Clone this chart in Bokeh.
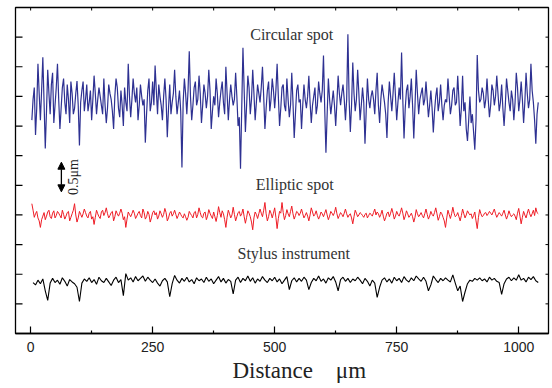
import math
from bokeh.plotting import figure
from bokeh.models import FixedTicker, Label, Arrow, NormalHead, Range1d
from bokeh.embed import file_html
from bokeh.resources import INLINE

# distance grids (um)
distance_fine = [2.5 * i for i in range(1, 417)]      # 2.5 ... 1040
distance = list(range(5, 1045, 5))                     # 5 ... 1040

circular_spot = [
    3.60, 3.95, 4.15, 3.35, 3.80, 4.55, 4.05, 3.60, 4.10, 4.66, 3.90, 3.12, 3.75, 4.45, 4.05, 3.70, 4.20, 4.40, 3.55, 3.85,
    4.15, 4.55, 3.95, 3.45, 3.80, 4.15, 4.30, 3.90, 3.70, 4.20, 3.95, 3.55, 4.25, 4.05, 3.70, 3.80, 4.05, 4.26, 3.85, 3.17,
    3.90, 4.10, 4.25, 3.75, 3.95, 4.20, 3.75, 3.90, 4.10, 3.60, 3.95, 4.35, 4.05, 3.70, 3.95, 4.15, 4.00, 3.85, 3.70, 4.30,
    3.85, 3.55, 3.80, 4.20, 4.05, 3.95, 3.75, 3.45, 4.00, 4.30, 4.15, 3.80, 3.65, 4.10, 3.85, 3.50, 4.15, 3.90, 3.75, 4.55,
    4.00, 3.65, 3.95, 4.30, 4.05, 3.90, 4.15, 3.60, 3.85, 4.20, 4.00, 3.85, 3.95, 3.22, 3.70, 4.10, 4.30, 3.75, 3.90, 4.25,
    3.85, 4.52, 4.10, 3.70, 4.20, 4.00, 3.85, 3.60, 4.00, 4.30, 3.95, 3.31, 3.80, 4.20, 3.70, 3.90, 4.05, 4.45, 4.00, 3.70,
    3.90, 4.10, 3.75, 2.80, 3.90, 4.30, 4.05, 3.70, 4.10, 4.76, 4.00, 3.60, 3.85, 4.15, 4.25, 3.85, 3.95, 4.35, 4.05, 3.55,
    3.85, 4.20, 4.05, 3.80, 4.00, 4.45, 4.10, 3.45, 3.75, 4.00, 3.85, 4.30, 4.05, 3.65, 3.90, 4.10, 4.25, 3.90, 3.70, 4.50,
    4.05, 3.60, 3.95, 4.20, 4.00, 3.85, 3.95, 4.40, 4.00, 3.50, 3.65, 2.78, 3.80, 4.82, 4.10, 3.40, 3.85, 4.35, 4.15, 3.70,
    3.95, 4.45, 4.05, 3.60, 3.90, 4.20, 4.05, 3.90, 4.15, 4.50, 4.00, 3.45, 3.80, 4.10, 4.25, 3.75, 3.95, 4.30, 4.10, 3.80,
    4.10, 4.55, 4.00, 3.50, 3.80, 4.15, 4.20, 3.85, 3.75, 4.30, 3.95, 3.65, 3.85, 4.40, 3.90, 3.30, 3.70, 4.10, 4.20, 3.90,
    3.95, 3.45, 3.85, 4.20, 3.95, 3.80, 4.00, 4.35, 3.90, 3.55, 3.85, 4.00, 4.15, 3.70, 3.85, 4.25, 4.05, 3.90, 4.10, 4.69,
    3.80, 3.05, 3.70, 4.30, 3.95, 3.70, 3.90, 4.10, 3.85, 3.50, 3.90, 4.35, 4.05, 3.85, 4.05, 4.20, 3.95, 3.60, 3.95, 5.05,
    3.95, 3.40, 3.85, 4.57, 4.05, 3.75, 3.95, 4.45, 4.05, 3.60, 3.85, 4.15, 3.90, 3.20, 3.75, 4.30, 3.95, 3.80, 4.00, 4.10,
    3.95, 3.70, 4.10, 4.40, 3.85, 3.55, 3.95, 4.20, 4.05, 3.90, 3.70, 3.30, 3.90, 4.25, 4.00, 3.75, 4.05, 4.40, 4.00, 3.60,
    3.90, 4.15, 3.95, 4.74, 3.95, 3.29, 3.80, 4.10, 4.20, 3.80, 4.00, 4.30, 3.85, 3.29, 3.85, 4.45, 4.05, 3.70, 3.95, 4.05,
    4.15, 3.85, 3.95, 4.25, 3.95, 3.65, 3.85, 4.10, 3.80, 3.39, 3.75, 4.00, 4.15, 3.75, 3.90, 4.20, 3.85, 3.60, 3.85, 3.95,
    3.90, 4.30, 4.00, 3.70, 3.85, 4.10, 4.15, 3.85, 3.90, 4.35, 3.95, 3.50, 3.80, 4.35, 3.75, 3.90, 3.45, 3.25, 3.60, 4.00,
    3.55, 3.70, 3.40, 3.10, 3.60, 4.70, 4.10, 3.90, 3.95, 4.15, 4.05, 3.80, 3.95, 4.30, 3.95, 3.65, 3.85, 4.20, 4.10, 3.85,
    4.00, 4.35, 4.05, 3.75, 3.90, 4.20, 3.80, 3.50, 3.85, 4.30, 4.10, 3.90, 3.75, 4.10, 3.95, 3.60, 3.90, 4.40, 4.15, 3.75,
    3.95, 4.25, 3.95, 3.55, 3.90, 4.40, 4.05, 3.80, 3.95, 4.55, 4.10, 3.90, 3.60, 3.20, 3.70, 3.90,
]

elliptic_spot = [
    2.19, 2.08, 1.96, 2.02, 2.06, 1.95, 1.90, 1.79, 1.92, 1.98, 2.04, 1.92, 1.98, 2.05, 2.08, 1.97, 1.94, 2.03, 2.07, 1.95,
    1.99, 2.06, 2.03, 1.99, 1.95, 2.08, 2.01, 1.93, 1.98, 2.04, 2.06, 1.90, 1.96, 2.02, 2.08, 2.19, 2.00, 1.88, 1.95, 2.06,
    2.01, 1.96, 2.02, 2.10, 2.04, 1.98, 1.95, 2.03, 2.06, 1.93, 1.97, 1.84, 1.96, 2.08, 2.02, 1.97, 1.94, 2.05, 2.08, 1.99,
    2.04, 2.12, 2.02, 1.95, 1.99, 2.04, 2.06, 1.90, 1.97, 2.07, 2.02, 1.98, 2.03, 2.10, 2.03, 1.92, 1.97, 1.79, 1.93, 2.05,
    2.01, 1.97, 2.02, 2.08, 2.03, 1.94, 1.98, 2.03, 2.06, 1.99, 1.95, 2.10, 2.04, 1.93, 1.97, 2.06, 2.01, 1.88, 1.95, 2.04,
    2.07, 2.00, 2.04, 1.93, 1.98, 2.07, 2.02, 1.96, 2.01, 2.11, 2.04, 1.90, 1.95, 2.03, 2.06, 1.98, 2.02, 2.08, 2.01, 1.94,
    1.99, 2.05, 2.01, 1.97, 1.95, 2.02, 1.97, 1.91, 1.96, 2.06, 2.02, 1.99, 1.95, 2.04, 2.06, 1.95, 2.01, 2.12, 2.04, 1.97,
    1.95, 2.03, 2.05, 1.92, 1.98, 2.09, 2.03, 1.98, 1.94, 2.05, 1.97, 1.89, 1.99, 2.14, 2.04, 1.96, 2.07, 2.02, 1.92, 1.79,
    1.96, 2.08, 2.02, 1.95, 2.00, 2.13, 2.01, 1.90, 1.97, 2.04, 2.06, 1.98, 2.02, 2.10, 1.97, 1.86, 1.96, 2.07, 2.03, 1.97,
    1.88, 1.75, 1.95, 2.05, 2.01, 1.94, 2.02, 2.10, 2.03, 1.97, 2.08, 2.21, 2.02, 1.90, 1.97, 2.08, 2.03, 1.95, 2.03, 2.12,
    1.96, 1.77, 1.94, 2.06, 2.03, 2.21, 2.04, 1.92, 1.99, 2.09, 2.02, 1.97, 2.06, 2.15, 2.02, 1.93, 1.99, 2.06, 2.04, 1.99,
    2.03, 2.10, 2.02, 1.95, 1.99, 2.04, 1.98, 1.90, 2.00, 2.12, 2.05, 1.98, 2.01, 2.07, 1.99, 1.93, 1.98, 2.05, 2.02, 1.97,
    2.03, 2.09, 2.00, 1.92, 1.98, 2.06, 2.03, 1.99, 2.04, 2.13, 2.02, 1.94, 1.99, 2.04, 2.01, 1.97, 2.03, 2.10, 2.02, 1.96,
    2.00, 2.02, 1.95, 1.85, 1.97, 2.08, 2.03, 1.97, 2.00, 2.04, 2.02, 1.99, 1.96, 2.01, 2.03, 1.95, 1.99, 2.03, 2.01, 1.98,
    2.04, 2.10, 2.00, 2.05, 2.02, 1.96, 2.01, 2.08, 1.98, 1.90, 1.96, 2.03, 2.05, 1.97, 2.03, 2.11, 2.03, 1.93, 1.98, 2.06,
    2.01, 1.98, 2.04, 2.12, 2.03, 1.92, 1.98, 2.07, 2.02, 1.96, 1.99, 2.03, 1.97, 1.88, 1.96, 2.09, 2.02, 1.97, 2.00, 2.04,
    1.99, 1.95, 2.02, 2.10, 2.01, 1.93, 1.98, 2.06, 2.01, 1.98, 2.04, 2.12, 2.02, 1.91, 1.97, 2.05, 2.02, 1.96, 1.90, 1.79,
    1.95, 2.08, 2.01, 1.94, 2.02, 2.13, 2.03, 1.97, 1.99, 2.04, 1.97, 1.90, 1.99, 2.10, 2.02, 1.95, 2.00, 2.07, 2.03, 2.00,
    2.02, 1.94, 1.99, 2.05, 1.90, 1.77, 1.96, 2.09, 2.02, 1.97, 1.99, 2.03, 2.04, 1.99, 2.02, 2.06, 2.03, 2.00, 2.05, 2.10,
    2.02, 1.96, 2.00, 2.04, 2.01, 1.98, 2.03, 2.08, 2.00, 1.93, 1.99, 2.07, 2.01, 1.97, 2.00, 2.02, 1.98, 1.92, 2.03, 2.11,
    1.98, 1.85, 1.96, 2.06, 2.00, 1.95, 2.03, 2.10, 2.02, 1.97, 2.02, 2.08, 1.99, 2.12, 2.04, 2.02,
]

stylus_instrument = [
    0.86, 0.82, 0.90, 0.84, 0.92, 0.72, 0.56, 0.85, 0.93, 0.86,
    0.90, 0.83, 0.94, 0.88, 0.80, 0.91, 0.87, 0.84, 0.78, 0.54,
    0.85, 0.92, 0.88, 0.94, 0.86, 0.91, 0.83, 0.95, 0.89, 0.86,
    0.93, 0.87, 0.81, 0.90, 0.95, 0.86, 0.91, 0.64, 1.01, 0.90,
    0.94, 0.87, 0.96, 0.89, 0.93, 0.97, 0.88, 0.95, 0.90, 0.86,
    0.92, 0.85, 0.80, 0.89, 0.93, 0.87, 0.62, 0.84, 0.98, 0.90,
    0.85, 0.93, 0.88, 0.95, 0.87, 0.91, 0.84, 0.94, 0.89, 0.92,
    0.86, 0.95, 0.88, 0.92, 0.84, 0.90, 0.96, 0.87, 0.93, 0.85,
    0.91, 0.88, 0.67, 0.90, 0.95, 0.86, 0.93, 0.89, 0.97, 0.88,
    0.94, 0.85, 0.92, 0.88, 0.96, 0.90, 0.86, 0.93, 0.89, 0.95,
    0.87, 0.92, 0.84, 0.90, 0.96, 0.74, 0.89, 0.94, 0.87, 0.93,
    0.88, 0.95, 0.90, 0.74, 0.86, 0.93, 0.89, 0.97, 0.88, 0.92,
    0.85, 0.94, 0.90, 0.96, 0.87, 0.72, 0.91, 0.95, 0.88, 0.93,
    0.86, 0.92, 0.89, 0.95, 0.90, 0.84, 0.93, 0.88, 0.80, 0.90,
    0.85, 0.61, 0.78, 0.90, 0.94, 0.87, 0.92, 0.85, 0.95, 0.89,
    0.93, 0.86, 0.96, 0.90, 0.87, 0.94, 0.89, 0.97, 0.92, 0.88,
    0.95, 0.88, 0.72, 0.82, 0.97, 0.91, 0.86, 0.93, 0.89, 0.94,
    0.90, 0.87, 0.99, 0.85, 0.72, 0.80, 0.54, 0.70, 0.84, 0.90,
    0.88, 0.93, 0.90, 0.94, 0.89, 0.92, 0.87, 0.95, 0.90, 0.93,
    0.88, 0.86, 0.66, 0.84, 0.92, 0.95, 0.89, 0.94, 0.90, 0.99,
    0.90, 0.93, 0.87, 0.95, 0.91, 0.96, 0.89, 0.86,
]

x_ticks = [0, 250, 500, 750, 1000]
x_minor = [125, 375, 625, 875]
top_ticks = [0, 125, 250, 375, 500, 625, 750, 875, 1000]
y_ticks = [0.5, 1.0, 1.5, 2.0, 2.5, 3.0, 3.5, 4.0, 4.5, 5.0]

X0, X1 = -31, 1061
Y0, Y1 = 0, 5.5

SERIF = "Liberation Serif"
SANS = "Liberation Sans"
NB = "\u00a0"

p = figure(width=552, height=388, x_range=Range1d(X0, X1), y_range=Range1d(Y0, Y1),
           output_backend="svg", toolbar_location=None,
           min_border_left=15, min_border_right=4, min_border_top=7, min_border_bottom=55)
p.grid.visible = False
p.outline_line_color = "black"
p.outline_line_width = 1.3
p.outline_line_alpha = 1.0
p.yaxis.visible = False

# bottom axis
xa = p.xaxis[0]
xa.ticker = FixedTicker(ticks=x_ticks, minor_ticks=x_minor)
xa.major_tick_in = 7
xa.major_tick_out = 0
xa.minor_tick_in = 3
xa.minor_tick_out = 0
xa.axis_line_color = "black"
xa.axis_line_width = 1.3
xa.major_tick_line_width = 1.2
xa.minor_tick_line_width = 1.2
xa.major_label_text_font = SANS
xa.major_label_text_font_size = "14px"
xa.major_label_text_color = "#222222"
xa.major_label_standoff = 8
xa.axis_label = NB * 6 + "Distance" + NB * 4 + "\u03bcm"
xa.axis_label_text_font = SERIF
xa.axis_label_text_font_style = "normal"
xa.axis_label_text_font_size = "23px"
xa.axis_label_text_color = "#222222"
xa.axis_label_standoff = 3

# frame ticks on left (in), top (in) and right (in): half of each dash is clipped by the frame
p.scatter([X0] * len(y_ticks), y_ticks, marker="dash", size=14, line_color="black", line_width=1.2)
p.scatter([X1] * len(y_ticks), y_ticks, marker="dash", size=6, line_color="black", line_width=1.0)
p.scatter(top_ticks, [Y1] * len(top_ticks), marker="dash", size=6, angle=math.pi / 2,
          line_color="black", line_width=1.0)

p.line(distance_fine, circular_spot, line_color="#2E3192", line_width=1.2)
p.line(distance_fine, elliptic_spot, line_color="#EE1C25", line_width=1.0)
p.line(distance, stylus_instrument, line_color="#000000", line_width=1.1)

for txt, lx, ly in [("Circular spot", 535, 5.04), ("Elliptic spot", 541, 2.51), ("Stylus instrument", 539, 1.35)]:
    p.add_layout(Label(x=lx, y=ly, text=txt, text_align="center", text_baseline="middle",
                       text_font=SERIF, text_font_size="16px", text_color="#333333"))

# 0.5 um scale bar
p.add_layout(Arrow(start=NormalHead(size=7, fill_color="black", line_color="black"),
                   end=NormalHead(size=7, fill_color="black", line_color="black"),
                   x_start=63, y_start=2.39, x_end=63, y_end=2.89, line_width=1.3))
p.add_layout(Label(x=88, y=2.64, text="0.5\u03bcm", angle=math.pi / 2, text_align="center",
                   text_baseline="middle", text_font=SERIF, text_font_size="14px", text_color="#222222"))

open("out.html", "w").write(file_html(p, INLINE))
